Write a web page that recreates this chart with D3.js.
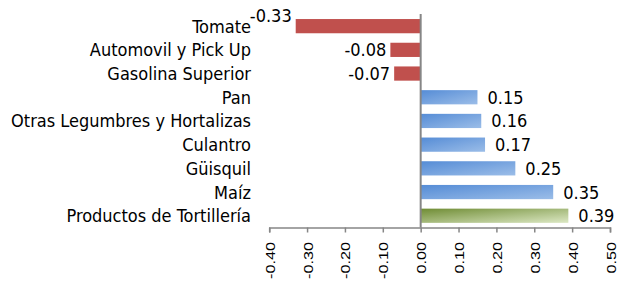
<!DOCTYPE html>
<html>
<head>
<meta charset="utf-8">
<script src="https://cdn.jsdelivr.net/npm/d3@7"></script>
<style>
  body { margin: 0; background: #fff; }
  svg { display: block; font-family: "DejaVu Sans Condensed", "DejaVu Sans", sans-serif; font-stretch: condensed; }
</style>
</head>
<body>
<svg id="chart" width="620" height="281"></svg>
<script>
// data
const categories = [
  "Tomate",
  "Automovil y Pick Up",
  "Gasolina Superior",
  "Pan",
  "Otras Legumbres y Hortalizas",
  "Culantro",
  "Güisquil",
  "Maíz",
  "Productos de Tortillería"
];
const values = [-0.33, -0.08, -0.07, 0.15, 0.16, 0.17, 0.25, 0.35, 0.39];
const tickValues = [-0.4, -0.3, -0.2, -0.1, 0, 0.1, 0.2, 0.3, 0.4, 0.5];

const WIDTH = 620;
const HEIGHT = 281;
const AXIS_Y = 227.5;
const LABEL_X = 251;
const FONT = 18;
const GREY = "#868686";

const svg = d3.select("#chart");
svg.append("rect").attr("width", WIDTH).attr("height", HEIGHT).attr("fill", "#fff");

// gradients for the bars
const defs = svg.append("defs");
function gradient(id, from, to) {
  const g = defs.append("linearGradient")
    .attr("id", id)
    .attr("x1", 0).attr("y1", 0)
    .attr("x2", 1).attr("y2", 1);
  g.append("stop").attr("offset", "0%").attr("stop-color", from);
  g.append("stop").attr("offset", "100%").attr("stop-color", to);
}
gradient("blue", "#558cd6", "#9bbde8");
gradient("green", "#6f8c34", "#dce8c4");

const x = d3.scaleLinear().domain([-0.4, 0.5]).range([269.2, 610]);
const y = d3.scaleBand()
  .domain(categories)
  .range([14.3, 227.6])
  .paddingInner(0.4)
  .paddingOuter(0.2);

const rows = categories.map((c, i) => ({ name: c, value: values[i], last: i === categories.length - 1 }));

function barFill(d) {
  if (d.value < 0) return "#c0504d";
  return d.last ? "url(#green)" : "url(#blue)";
}

// bars
svg.append("g")
  .selectAll("rect")
  .data(rows)
  .join("rect")
  .attr("x", (d) => x(Math.min(0, d.value)))
  .attr("y", (d) => y(d.name))
  .attr("width", (d) => Math.abs(x(d.value) - x(0)))
  .attr("height", y.bandwidth())
  .attr("fill", barFill);

// zero line
svg.append("line")
  .attr("x1", x(0)).attr("x2", x(0))
  .attr("y1", 14).attr("y2", AXIS_Y)
  .attr("stroke", GREY)
  .attr("stroke-width", 2);

// x axis
const xAxis = d3.axisBottom(x)
  .tickValues(tickValues)
  .tickSizeInner(5)
  .tickSizeOuter(5)
  .tickFormat((d) => d.toFixed(2));

const axisG = svg.append("g")
  .attr("transform", `translate(0, ${AXIS_Y})`)
  .call(xAxis);

axisG.select(".domain").attr("stroke", GREY).attr("stroke-width", 1.5);
axisG.selectAll(".tick line").attr("stroke", GREY).attr("stroke-width", 1.5);
axisG.selectAll(".tick text")
  .attr("x", null).attr("y", null).attr("dy", null)
  .attr("text-anchor", "end")
  .attr("transform", "translate(5, 14.5) rotate(-90) scale(1.2, 1)")
  .attr("fill", "#000")
  .style("font-size", "13.5px");

// category labels
svg.append("g")
  .selectAll("text")
  .data(rows)
  .join("text")
  .attr("x", LABEL_X)
  .attr("y", (d) => y(d.name) + y.bandwidth() / 2)
  .attr("dy", "0.36em")
  .attr("text-anchor", "end")
  .attr("font-size", FONT)
  .attr("fill", "#000")
  .text((d) => d.name);

// value labels, raised when they would hit the category column
const valueLabels = svg.append("g")
  .selectAll("text")
  .data(rows)
  .join("text")
  .attr("y", (d) => y(d.name) + y.bandwidth() / 2)
  .attr("dy", "0.36em")
  .attr("font-size", FONT)
  .attr("fill", "#000")
  .attr("text-anchor", (d) => (d.value < 0 ? "end" : "start"))
  .attr("x", (d) => (d.value < 0 ? x(d.value) - 4 : x(d.value) + 10))
  .text((d) => d.value.toFixed(2));

valueLabels.each(function (d) {
  const box = this.getBBox();
  if (d.value < 0 && box.x < LABEL_X + 4) {
    d3.select(this).attr("y", y(d.name) + y.bandwidth() / 2 - 11);
  }
});
</script>
</body>
</html>
